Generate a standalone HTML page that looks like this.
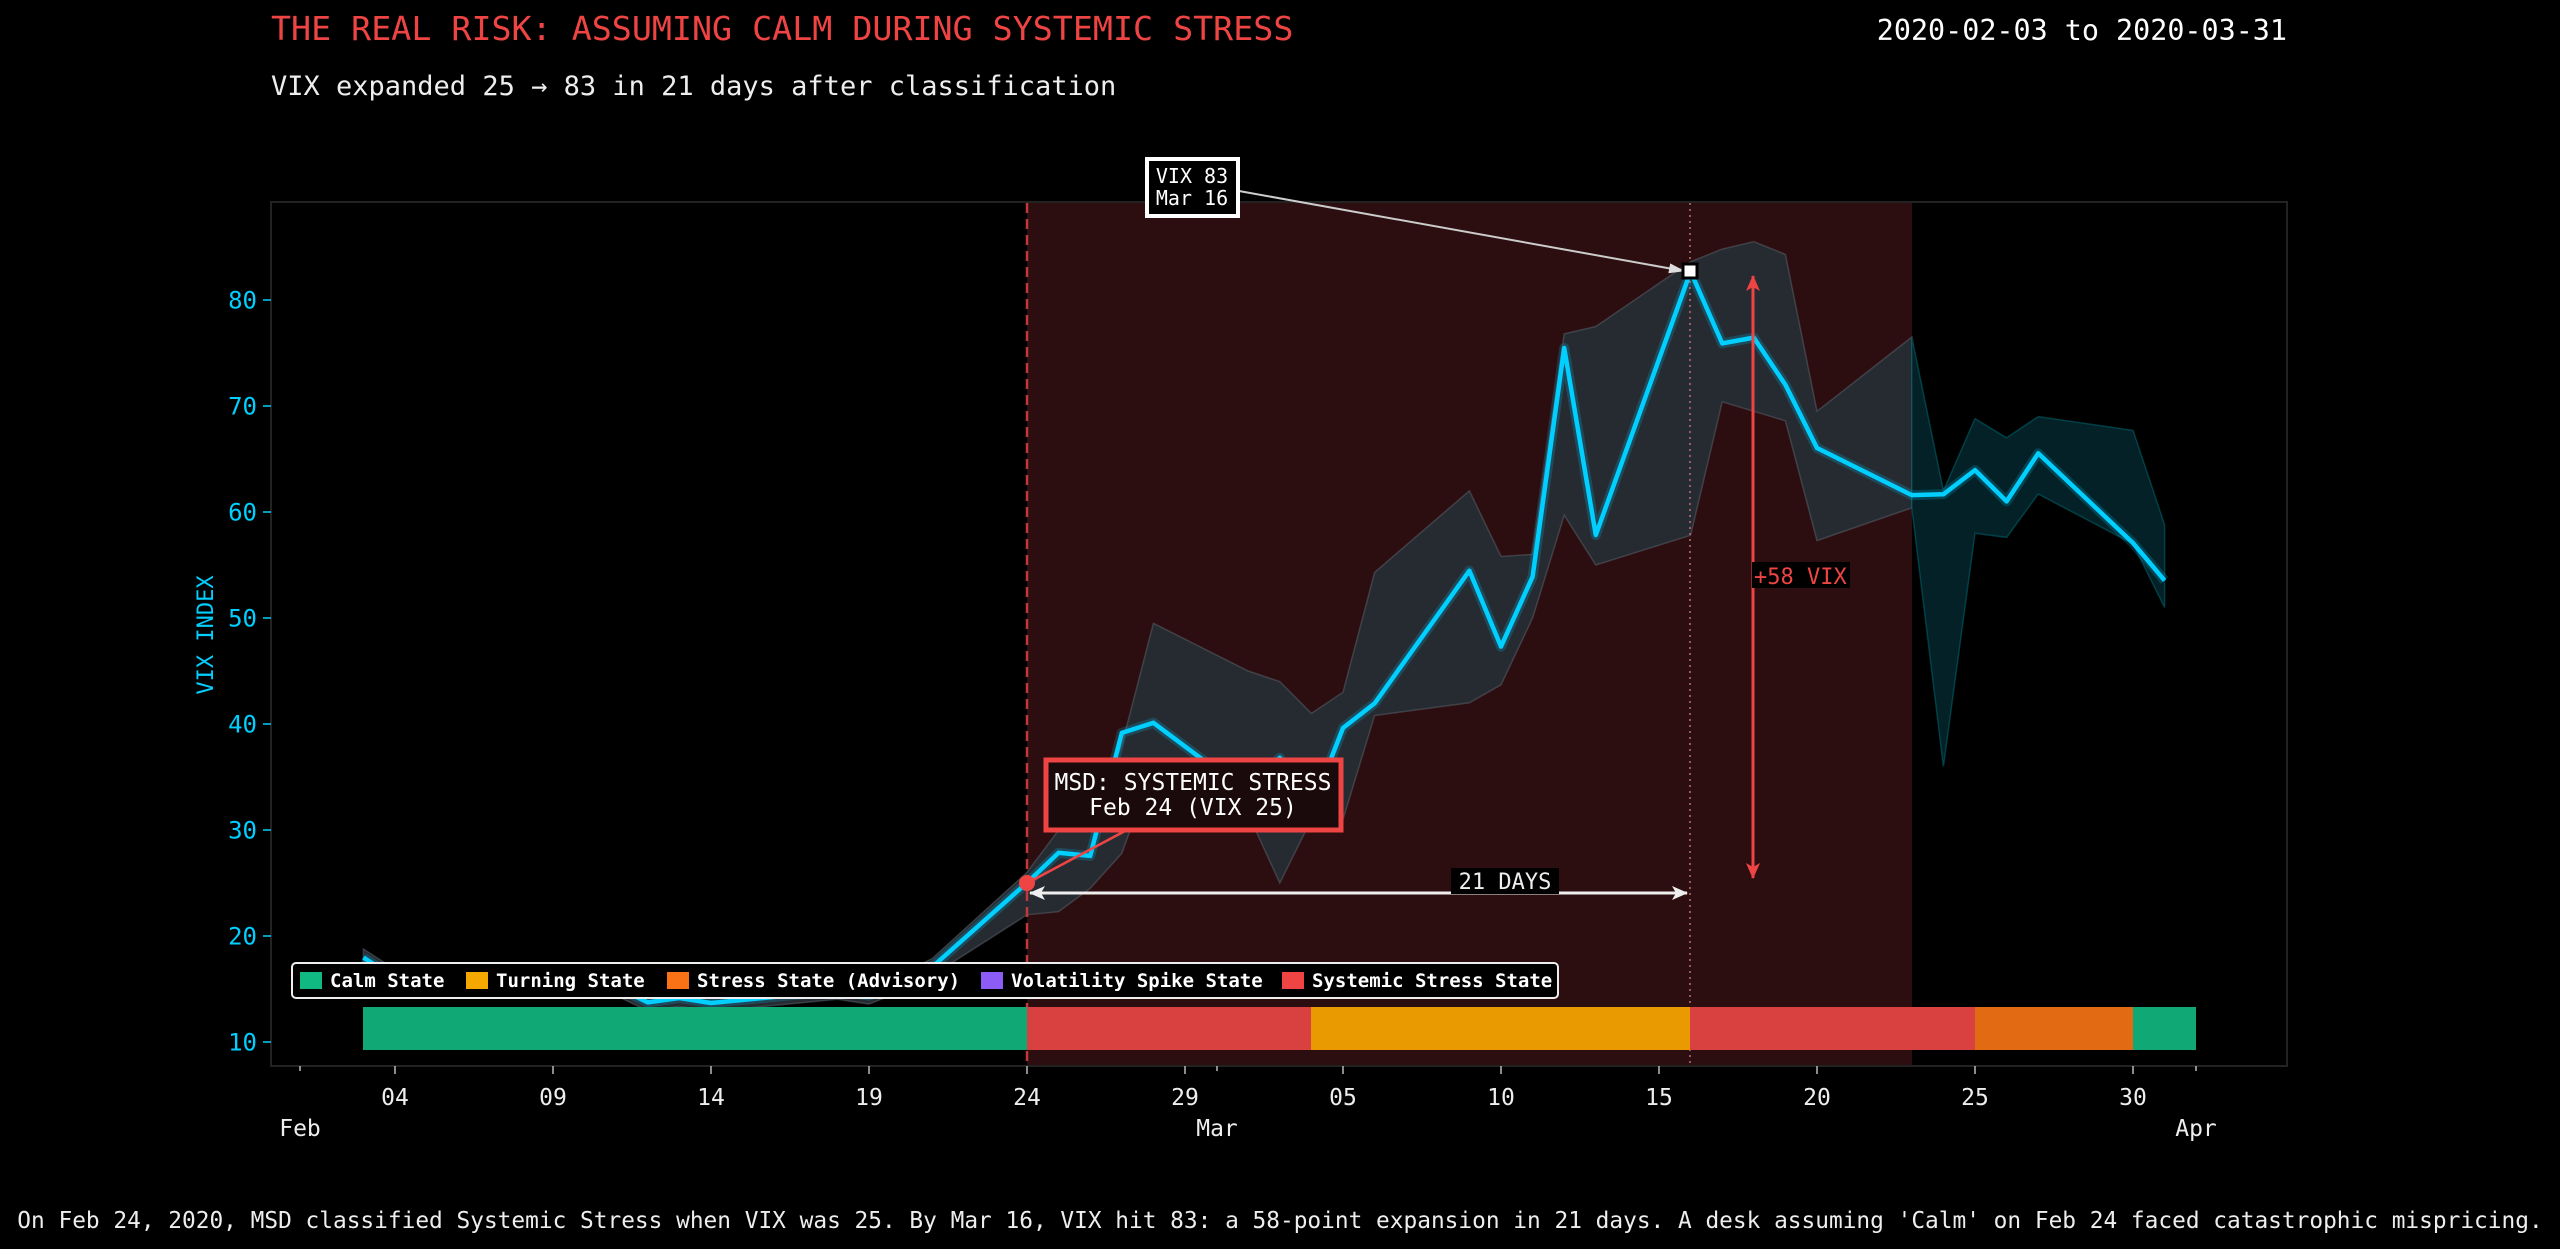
<!DOCTYPE html>
<html><head><meta charset="utf-8"><style>
html,body{margin:0;padding:0;background:#000;}
svg{display:block}
text{font-family:"DejaVu Sans Mono","Liberation Mono",monospace;}
</style></head><body>
<svg id="s" width="2560" height="1249" viewBox="0 0 2560 1249" xmlns="http://www.w3.org/2000/svg">
<rect width="2560" height="1249" fill="#000"/>
<text x="271" y="40" font-size="33.3" fill="#ef4444">THE REAL RISK: ASSUMING CALM DURING SYSTEMIC STRESS</text>
<text x="2287" y="40" font-size="28.4" fill="#fff" text-anchor="end">2020-02-03 to 2020-03-31</text>
<text x="271" y="95" font-size="27" fill="#eee">VIX expanded 25 → 83 in 21 days after classification</text>
<rect x="271" y="202" width="2016" height="864" fill="#000" stroke="#222" stroke-width="2"/>
<rect x="1027" y="203" width="885" height="862" fill="#2d0e10"/>
<g id="plot"></g>
<line x1="1027" y1="203" x2="1027" y2="1066" stroke="#c03838" stroke-width="2.5" stroke-dasharray="10,6"/>
<line x1="1690" y1="203" x2="1690" y2="1066" stroke="#c07070" stroke-width="1.5" stroke-dasharray="2,4"/>
<rect x="363" y="1007" width="664" height="43" fill="#10a874"/>
<rect x="1027" y="1007" width="284" height="43" fill="#d94040"/>
<rect x="1311" y="1007" width="379" height="43" fill="#e89a00"/>
<rect x="1690" y="1007" width="285" height="43" fill="#d94040"/>
<rect x="1975" y="1007" width="158" height="43" fill="#e26a12"/>
<rect x="2133" y="1007" width="63" height="43" fill="#10a874"/>
<rect x="292" y="963" width="1266" height="35" rx="4" fill="#000" stroke="#eee" stroke-width="2"/>
<g font-size="19" fill="#fff" font-weight="bold">
<rect x="300" y="972" width="22" height="17" fill="#10b981"/><text x="330" y="987">Calm State</text>
<rect x="466" y="972" width="22" height="17" fill="#f5a800"/><text x="496" y="987">Turning State</text>
<rect x="667" y="972" width="22" height="17" fill="#f97316"/><text x="697" y="987">Stress State (Advisory)</text>
<rect x="981" y="972" width="22" height="17" fill="#8b5cf6"/><text x="1011" y="987">Volatility Spike State</text>
<rect x="1282" y="972" width="22" height="17" fill="#ef4444"/><text x="1312" y="987">Systemic Stress State</text>
</g>
<g font-size="24" fill="#00cfff" text-anchor="end" id="yt"></g>
<text transform="translate(213,635) rotate(-90)" font-size="22" fill="#00cfff" text-anchor="middle">VIX INDEX</text>
<g font-size="23" fill="#eee" text-anchor="middle">
<text x="395" y="1105">04</text><text x="553" y="1105">09</text><text x="711" y="1105">14</text><text x="869" y="1105">19</text><text x="1027" y="1105">24</text><text x="1185" y="1105">29</text><text x="1343" y="1105">05</text><text x="1501" y="1105">10</text><text x="1659" y="1105">15</text><text x="1817" y="1105">20</text><text x="1975" y="1105">25</text><text x="2133" y="1105">30</text>
<text x="300" y="1136">Feb</text><text x="1217" y="1136">Mar</text><text x="2196" y="1136">Apr</text>
</g>
<g stroke="#bbb" stroke-width="1.5">
<line x1="395" y1="1066" x2="395" y2="1074"/><line x1="553" y1="1066" x2="553" y2="1074"/><line x1="711" y1="1066" x2="711" y2="1074"/><line x1="869" y1="1066" x2="869" y2="1074"/><line x1="1027" y1="1066" x2="1027" y2="1074"/><line x1="1185" y1="1066" x2="1185" y2="1074"/><line x1="1343" y1="1066" x2="1343" y2="1074"/><line x1="1501" y1="1066" x2="1501" y2="1074"/><line x1="1659" y1="1066" x2="1659" y2="1074"/><line x1="1817" y1="1066" x2="1817" y2="1074"/><line x1="1975" y1="1066" x2="1975" y2="1074"/><line x1="2133" y1="1066" x2="2133" y2="1074"/>
<line x1="300" y1="1066" x2="300" y2="1071"/><line x1="1217" y1="1066" x2="1217" y2="1071"/><line x1="2196" y1="1066" x2="2196" y2="1071"/>
</g>
<defs>
<marker id="aw" markerUnits="userSpaceOnUse" markerWidth="16" markerHeight="12" refX="15" refY="6" orient="auto"><path d="M0,1 L16,6 L0,11 Z" fill="#ddd"/></marker>
<marker id="aw2" markerUnits="userSpaceOnUse" markerWidth="16" markerHeight="14" refX="15" refY="7" orient="auto-start-reverse"><path d="M0,0 L16,7 L0,14 L4,7 Z" fill="#eee"/></marker>
<marker id="ar" markerUnits="userSpaceOnUse" markerWidth="16" markerHeight="14" refX="15" refY="7" orient="auto-start-reverse"><path d="M0,0 L16,7 L0,14 L4,7 Z" fill="#ef4444"/></marker>
</defs>
<line x1="1239" y1="191" x2="1684" y2="271" stroke="#ccc" stroke-width="2" marker-end="url(#aw)"/>
<rect x="1683" y="264" width="14" height="14" fill="#fff" stroke="#000" stroke-width="3"/>
<rect x="1147" y="159" width="91" height="57" fill="#000" stroke="#fff" stroke-width="4"/>
<text x="1192" y="183" font-size="20" fill="#fff" text-anchor="middle">VIX 83</text>
<text x="1192" y="205" font-size="20" fill="#fff" text-anchor="middle">Mar 16</text>
<line x1="1030" y1="893" x2="1687" y2="893" stroke="#eee" stroke-width="3" marker-start="url(#aw2)" marker-end="url(#aw2)"/>
<rect x="1451" y="868" width="108" height="26" fill="#000"/>
<text x="1505" y="889" font-size="22" fill="#eee" text-anchor="middle">21 DAYS</text>
<line x1="1753" y1="276" x2="1753" y2="878" stroke="#ef4444" stroke-width="3" marker-start="url(#ar)" marker-end="url(#ar)"/>
<rect x="1752" y="562" width="98" height="26" fill="#000"/>
<text x="1754" y="584" font-size="22" fill="#ef4444">+58 VIX</text>
<line x1="1125" y1="831" x2="1033" y2="880" stroke="#ef4444" stroke-width="2.5"/>
<circle cx="1027" cy="883" r="8" fill="#ef4444"/>
<rect x="1046" y="760" width="295" height="70" fill="#1a0a0b" stroke="#ef4444" stroke-width="5"/>
<text x="1193" y="790" font-size="23" fill="#fff" text-anchor="middle">MSD: SYSTEMIC STRESS</text>
<text x="1193" y="815" font-size="23" fill="#fff" text-anchor="middle">Feb 24 (VIX 25)</text>
<text x="1280" y="1228" font-size="22.8" fill="#eee" text-anchor="middle">On Feb 24, 2020, MSD classified Systemic Stress when VIX was 25. By Mar 16, VIX hit 83: a 58-point expansion in 21 days. A desk assuming 'Calm' on Feb 24 faced catastrophic mispricing.</text>
</svg>
<script>
var X=function(d){return 300.2+31.6*d},Y=function(v){return 1042-(v-10)*10.6};
var D=[[2,17.97],[3,16.05],[4,15.15],[5,14.96],[6,15.47],[9,15.04],[10,15.18],[11,13.74],[12,14.15],[13,13.68],[17,14.83],[18,14.38],[19,15.56],[20,17.08],[23,25.03],[24,27.85],[25,27.56],[26,39.16],[27,40.11],[30,33.42],[31,36.82],[32,31.99],[33,39.62],[34,41.94],[37,54.46],[38,47.3],[39,53.9],[40,75.47],[41,57.83],[44,82.69],[45,75.91],[46,76.45],[47,72.0],[48,66.04],[51,61.59],[52,61.67],[53,63.95],[54,61.0],[55,65.54],[58,57.08],[59,53.54]];
var U={23:26,24:30,25:31,26:38,27:49.5,30:45,31:44,32:41,33:43,34:54.3,37:62,38:55.8,39:56,40:76.8,41:77.5,44:83.6,45:84.8,46:85.5,47:84.3,48:69.5,51:76.5,52:62,53:68.8,54:67,55:69,58:67.7,59:58.8};
var L={23:22,24:22.3,25:24.5,26:27.8,27:36,30:31.5,31:25,32:31,33:31,34:40.8,37:42,38:43.7,39:50,40:59.7,41:55,44:57.8,45:70.4,46:69.5,47:68.6,48:57.3,51:60.4,52:36,53:58,54:57.6,55:61.7,58:57,59:51};
function band(a,b,fill,stroke){var up=[],lo=[];D.forEach(function(p){if(p[0]<a||p[0]>b)return;var u=U[p[0]]!==undefined?U[p[0]]:p[1]+0.8,l=L[p[0]]!==undefined?L[p[0]]:p[1]-0.8;up.push(X(p[0]).toFixed(1)+','+Y(u).toFixed(1));lo.unshift(X(p[0]).toFixed(1)+','+Y(l).toFixed(1));});
return '<polygon points="'+up.concat(lo).join(' ')+'" fill="'+fill+'" stroke="'+stroke+'" stroke-width="1.5"/>';}
var h=band(2,51,'#262b32','rgba(90,100,110,0.5)')+band(51,59,'#032126','rgba(0,110,120,0.5)');
var pts=D.map(function(p){return X(p[0]).toFixed(1)+','+Y(p[1]).toFixed(1)}).join(' ');
h+='<polyline points="'+pts+'" fill="none" stroke="rgba(0,207,255,0.2)" stroke-width="10" stroke-linejoin="round"/>';
h+='<polyline points="'+pts+'" fill="none" stroke="#00cfff" stroke-width="4.5" stroke-linejoin="round"/>';
document.getElementById('plot').innerHTML=h;
var t='';for(var v=10;v<=80;v+=10){var y=Y(v);t+='<text x="257" y="'+(y+8.5)+'">'+v+'</text><line x1="263" y1="'+y+'" x2="271" y2="'+y+'" stroke="#00cfff" stroke-width="1.5"/>';}
document.getElementById('yt').innerHTML=t;
</script>
</body></html>
